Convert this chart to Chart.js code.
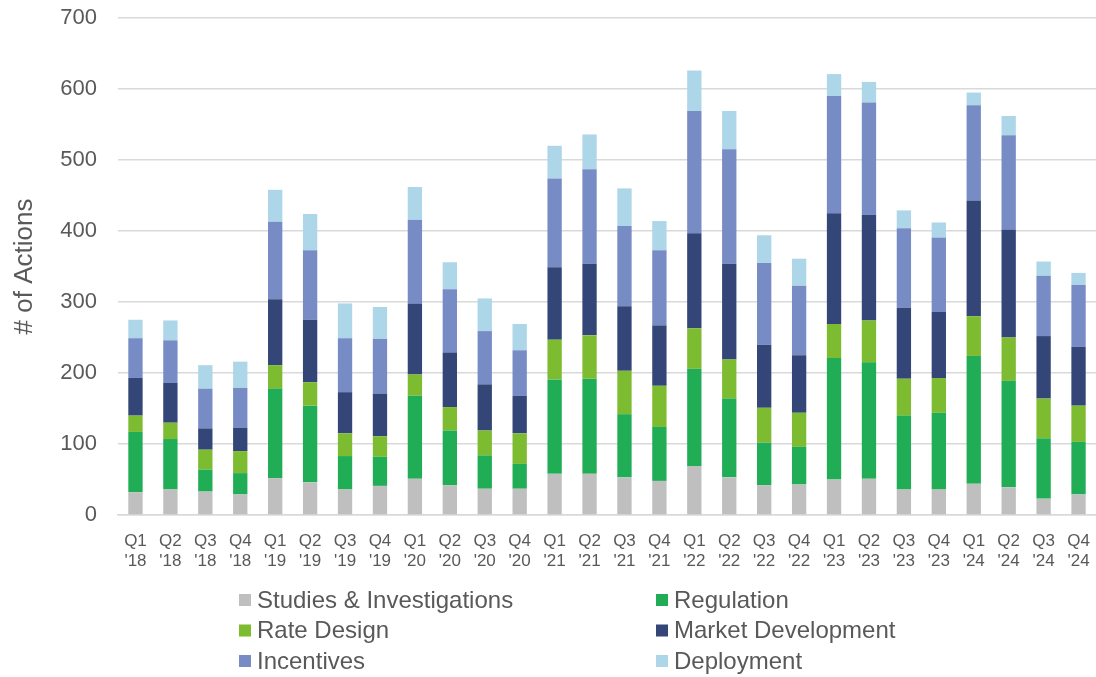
<!DOCTYPE html>
<html>
<head>
<meta charset="utf-8">
<script src="https://cdn.jsdelivr.net/npm/chart.js@4/dist/chart.umd.min.js"></script>
<style>
  html, body { margin: 0; padding: 0; background: #fff; }
  #wrap { width: 1096px; height: 677px; position: relative; }
</style>
</head>
<body>
<div id="wrap"><canvas id="ch" width="1096" height="677"></canvas></div>
<script>
const quarters = [
  ['Q1', "'18"], ['Q2', "'18"], ['Q3', "'18"], ['Q4', "'18"],
  ['Q1', "'19"], ['Q2', "'19"], ['Q3', "'19"], ['Q4', "'19"],
  ['Q1', "'20"], ['Q2', "'20"], ['Q3', "'20"], ['Q4', "'20"],
  ['Q1', "'21"], ['Q2', "'21"], ['Q3', "'21"], ['Q4', "'21"],
  ['Q1', "'22"], ['Q2', "'22"], ['Q3', "'22"], ['Q4', "'22"],
  ['Q1', "'23"], ['Q2', "'23"], ['Q3', "'23"], ['Q4', "'23"],
  ['Q1', "'24"], ['Q2', "'24"], ['Q3', "'24"], ['Q4', "'24"]
];

const studies    = [32, 36, 33, 29, 52, 46, 36, 41, 51, 42, 37, 37, 58, 58, 53, 48, 69, 53, 42, 43, 50, 51, 36, 36, 44, 39, 23, 29];
const regulation = [85, 71, 31, 30, 126, 108, 47, 41, 117, 77, 47, 35, 133, 134, 89, 76, 137, 111, 60, 53, 171, 164, 104, 108, 180, 150, 85, 74];
const rateDesign = [23, 23, 28, 31, 33, 33, 32, 29, 30, 33, 35, 43, 56, 61, 61, 58, 57, 55, 49, 48, 48, 59, 52, 49, 56, 61, 56, 51];
const marketDev  = [53, 56, 30, 33, 93, 88, 58, 60, 100, 77, 65, 53, 102, 101, 91, 85, 134, 135, 89, 81, 156, 149, 100, 93, 163, 152, 88, 83];
const incentives = [56, 60, 56, 56, 109, 98, 76, 77, 118, 89, 75, 64, 125, 133, 113, 106, 172, 161, 115, 98, 165, 158, 112, 105, 134, 133, 85, 87];
const deployment = [26, 28, 33, 37, 45, 51, 49, 45, 46, 38, 46, 37, 46, 49, 53, 41, 57, 54, 39, 38, 31, 29, 25, 21, 18, 27, 20, 17];

const seriesNames = ['Studies & Investigations', 'Regulation', 'Rate Design', 'Market Development', 'Incentives', 'Deployment'];
const seriesData = [studies, regulation, rateDesign, marketDev, incentives, deployment];
const colors = ['#bfbfbf', '#21ad55', '#7dbb31', '#334677', '#778bc5', '#add6e8'];

const grey = '#595959';
const font = "'Liberation Sans', Arial, sans-serif";

// legend drawn in two columns under the axis, like the original
const twoColLegend = {
  id: 'twoColLegend',
  afterDraw(chart) {
    let ctx = chart.ctx;
    ctx.save();
    ctx.font = "24px 'Liberation Sans', Arial, sans-serif";
    ctx.textBaseline = 'middle';
    chart.data.datasets.forEach((ds, i) => {
      let col = i % 2;
      let row = Math.floor(i / 2);
      let x = col === 0 ? 239 : 656;
      let y = 600 + row * 30.5;
      ctx.fillStyle = ds.backgroundColor;
      ctx.fillRect(x, y - 6, 12, 12);
      ctx.fillStyle = grey;
      ctx.fillText(ds.label, x + 18, y + 1);
    });
    ctx.restore();
  }
};

let chart = new Chart('ch', {
  type: 'bar',
  data: {
    labels: quarters,
    datasets: seriesNames.map((name, i) => ({
      label: name,
      data: seriesData[i],
      backgroundColor: colors[i],
      barPercentage: 0.41,
      categoryPercentage: 1
    }))
  },
  options: {
    responsive: false,
    animation: false,
    layout: { padding: { top: 18, left: 0, right: 0, bottom: 100 } },
    plugins: {
      legend: { display: false },
      tooltip: { enabled: false }
    },
    scales: {
      x: {
        stacked: true,
        grid: { display: false },
        border: { color: '#d9d9d9', width: 1.5 },
        afterFit: (s) => {
          s.height = 62;
          s.paddingLeft = 0;
          s.paddingRight = 0;
        },
        ticks: {
          color: grey,
          font: { family: font, size: 17 },
          maxRotation: 0,
          autoSkip: false,
          padding: 8
        }
      },
      y: {
        stacked: true,
        min: 0,
        max: 700,
        afterFit: (s) => {
          s.width = 118;
          s.paddingTop = 0;
          s.paddingBottom = 0;
        },
        grid: { color: '#d9d9d9', lineWidth: 1.5, drawTicks: false },
        border: { display: false },
        ticks: {
          stepSize: 100,
          color: grey,
          font: { family: font, size: 22 },
          padding: 21
        },
        title: {
          display: true,
          text: '# of Actions',
          color: grey,
          font: { family: font, size: 26 },
          padding: { top: 9, bottom: 0 }
        }
      }
    }
  },
  plugins: [twoColLegend]
});
</script>
</body>
</html>
